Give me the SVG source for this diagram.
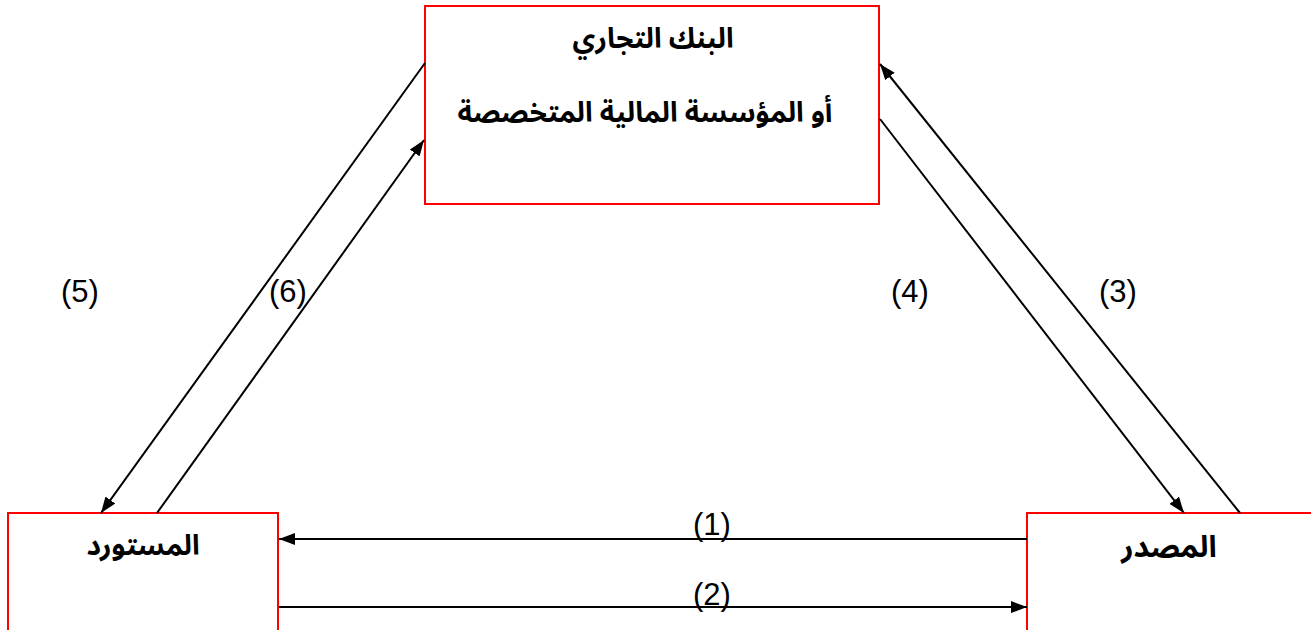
<svg xmlns="http://www.w3.org/2000/svg" width="1311" height="630" viewBox="0 0 1311 630">
<style>
.box{fill:#fff;stroke:#ff0000;stroke-width:2}
.ar{font-family:"Noto Sans Arabic","DejaVu Sans",sans-serif;font-weight:bold;font-size:28px;fill:#000;text-anchor:middle}
.lbl{font-family:"Liberation Sans",Arial,sans-serif;font-size:31px;fill:#000;text-anchor:middle}
.ln{stroke:#000;stroke-width:2;fill:none}
</style>
<defs>
<marker id="ah" viewBox="0 0 16 12" refX="16" refY="6" markerWidth="16" markerHeight="12" markerUnits="userSpaceOnUse" orient="auto">
<path d="M0,0 L16,6 L0,12 Z" fill="#000"/>
</marker>
</defs>
<rect width="1311" height="630" fill="#fff"/>
<g id="bank">
<rect class="box" x="425" y="6" width="454" height="198"/>
<text class="ar" x="653" y="48" direction="rtl">البنك التجاري</text>
<text class="ar" x="645" y="122" direction="rtl">أو المؤسسة المالية المتخصصة</text>
</g>
<g id="importer">
<rect class="box" x="8" y="513" width="270" height="130"/>
<text class="ar" x="143" y="555" direction="rtl">المستورد</text>
</g>
<g id="exporter">
<rect class="box" x="1027" y="513" width="290" height="130"/>
<text class="ar" x="1169" y="557" direction="rtl" style="font-size:30px">المصدر</text>
</g>
<g id="connectors">
<line class="ln" x1="1027" y1="539" x2="279" y2="539" marker-end="url(#ah)"/>
<line class="ln" x1="279" y1="607" x2="1027" y2="607" marker-end="url(#ah)"/>
<line class="ln" x1="425" y1="63" x2="101" y2="513" marker-end="url(#ah)"/>
<line class="ln" x1="157" y1="513" x2="424" y2="140" marker-end="url(#ah)"/>
<line class="ln" x1="1240" y1="513" x2="880" y2="64" marker-end="url(#ah)"/>
<line class="ln" x1="880" y1="119" x2="1184" y2="513" marker-end="url(#ah)"/>
<text class="lbl" x="712" y="535">(1)</text>
<text class="lbl" x="712" y="605">(2)</text>
<text class="lbl" x="1118" y="302">(3)</text>
<text class="lbl" x="910" y="302">(4)</text>
<text class="lbl" x="80" y="302">(5)</text>
<text class="lbl" x="288" y="302">(6)</text>
</g>
</svg>
